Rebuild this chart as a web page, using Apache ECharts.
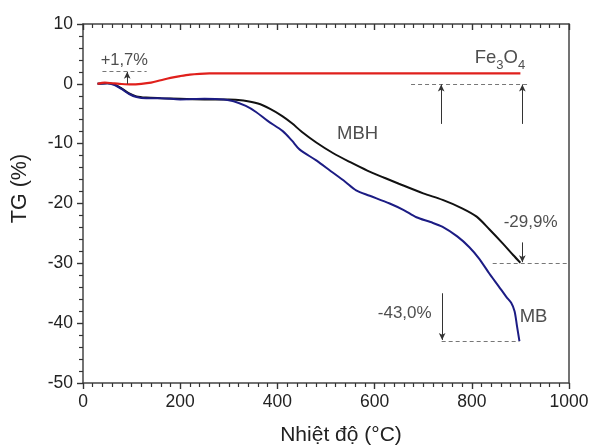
<!DOCTYPE html>
<html>
<head>
<meta charset="utf-8">
<script src="https://cdn.jsdelivr.net/npm/echarts@6/dist/echarts.min.js"></script>
<style>
html,body{margin:0;padding:0;background:#fff;}
#c{width:589px;height:446px;}
</style>
</head>
<body>
<div id="c"></div>
<script>
// Fe3O4 (red)
const tempFe = [30, 45, 60, 75, 100, 120, 140, 160, 180, 200, 220, 240, 260, 400, 600, 900];
const tgFe   = [0, 0.2, 0.1, 0, -0.1, 0, 0.2, 0.6, 1.0, 1.3, 1.55, 1.68, 1.74, 1.75, 1.75, 1.75];
// MBH (black)
const tempMBH = [30, 50, 65, 80, 95, 110, 130, 160, 200, 250, 300, 330, 360, 385, 410, 430, 450, 480, 515, 550, 585, 620, 650, 700, 740, 780, 810, 836, 864, 885, 900];
const tgMBH   = [0, 0.1, -0.1, -0.8, -1.6, -2.1, -2.3, -2.4, -2.5, -2.6, -2.6, -2.8, -3.3, -4.2, -5.4, -6.6, -8.0, -9.8, -11.6, -13.1, -14.5, -15.7, -16.7, -18.3, -19.4, -20.8, -22.2, -24.3, -26.7, -28.6, -29.9];
// MB (blue)
const tempMB = [30, 50, 65, 80, 95, 110, 130, 160, 200, 250, 290, 310, 335, 356, 380, 411, 430, 446, 480, 510, 540, 562, 590, 631, 660, 686, 715, 740, 770, 795, 815, 836, 855, 871, 881, 888, 893, 898];
const tgMB   = [0, 0.1, -0.2, -0.9, -1.7, -2.2, -2.4, -2.4, -2.6, -2.5, -2.6, -2.9, -3.7, -4.7, -6.2, -7.9, -9.5, -11.0, -12.8, -14.6, -16.4, -17.8, -18.7, -20.0, -21.1, -22.3, -23.1, -23.9, -25.5, -27.3, -29.2, -31.7, -33.8, -35.6, -36.6, -38.0, -40.5, -43.0];

const xTitle = 'Nhiệt độ (°C)';
const yTitle = 'TG (%)';

function pairs(xs, ys){ return xs.map((x,i)=>[x, ys[i]]); }

const FONT = '"Liberation Sans", Arial, sans-serif';
const axisCol = '#444';
const tickCol = '#333';
const txtCol = '#222';
const dashStyle = {type:[4,3], color:'#777', width:1};
const arrowStyle = {type:'solid', color:'#333', width:1};

function dashed(x1,y1,x2,y2){
  return [{coord:[x1,y1], symbol:'none', lineStyle:dashStyle}, {coord:[x2,y2], symbol:'none'}];
}
function arrow(x1,y1,x2,y2){
  return [{coord:[x1,y1], symbol:'none', lineStyle:arrowStyle}, {coord:[x2,y2], symbol:'arrow', symbolSize:[5,7]}];
}

const chart = echarts.init(document.getElementById('c'), null, {renderer:'canvas'});
const option = {
  animation:false,
  textStyle:{fontFamily:FONT},
  grid:{left:83, right:20, top:24, bottom:63, containLabel:false, outerBoundsMode:'none'},
  xAxis:[{
    type:'value', min:0, max:1000, interval:200, position:'bottom',
    name:xTitle, nameLocation:'middle', nameGap:42,
    nameTextStyle:{fontSize:21, color:txtCol, fontFamily:FONT, padding:[0,0,0,30]},
    axisLine:{show:true, onZero:false, lineStyle:{color:axisCol, width:1.5}},
    axisTick:{show:true, inside:false, length:6, lineStyle:{color:tickCol, width:1.4}},
    minorTick:{show:true, splitNumber:10, length:4, lineStyle:{color:tickCol, width:1.2}},
    axisLabel:{fontSize:17.5, color:txtCol, margin:10, fontFamily:FONT, formatter:v=>String(v)},
    splitLine:{show:false}, minorSplitLine:{show:false}
  },{
    type:'value', min:0, max:1000, interval:200, position:'top',
    axisLine:{show:true, onZero:false, lineStyle:{color:axisCol, width:1.5}},
    axisTick:{show:true, inside:true, length:6, lineStyle:{color:tickCol, width:1.4}},
    minorTick:{show:true, splitNumber:10, length:4, lineStyle:{color:tickCol, width:1.2}},
    axisLabel:{show:false}, splitLine:{show:false}, minorSplitLine:{show:false}
  }],
  yAxis:[{
    type:'value', min:-50, max:10, interval:10, position:'left',
    name:yTitle, nameLocation:'middle', nameGap:52, nameRotate:90,
    nameTextStyle:{fontSize:21.5, color:txtCol, fontFamily:FONT, padding:[0,0,0,30]},
    axisLine:{show:true, onZero:false, lineStyle:{color:axisCol, width:1.5}},
    axisTick:{show:true, inside:false, length:6, lineStyle:{color:tickCol, width:1.4}},
    minorTick:{show:true, splitNumber:5, length:4, lineStyle:{color:tickCol, width:1.2}},
    axisLabel:{fontSize:17.5, color:txtCol, margin:10, fontFamily:FONT},
    splitLine:{show:false}, minorSplitLine:{show:false}
  },{
    type:'value', min:-50, max:10, interval:10, position:'right',
    axisLine:{show:true, onZero:false, lineStyle:{color:axisCol, width:1.5}},
    axisTick:{show:false}, axisLabel:{show:false}, splitLine:{show:false}
  }],
  series:[
    {
      name:'Fe3O4', type:'line', data:pairs(tempFe, tgFe), showSymbol:false, smooth:0.3,
      lineStyle:{color:'#e0201c', width:2.2}, z:3,
      markLine:{
        silent:true, animation:false, label:{show:false},
        data:[
          dashed(40,2.1,131,2.1),
          arrow(91,0,91,2.0),
          dashed(675,0,919,0),
          arrow(737,-6.7,737,-0.1),
          arrow(904,-6.7,904,-0.1),
          dashed(843,-29.95,1000,-29.95),
          arrow(904,-26.5,904,-29.8),
          dashed(738,-43,898,-43),
          arrow(739,-35,739,-42.8)
        ]
      }
    },
    {
      name:'MBH', type:'line', data:pairs(tempMBH, tgMBH), showSymbol:false, smooth:0.3,
      lineStyle:{color:'#111', width:2}, z:2
    },
    {
      name:'MB', type:'line', data:pairs(tempMB, tgMB), showSymbol:false, smooth:0.3,
      lineStyle:{color:'#1c1c84', width:2}, z:2
    },
    {
      name:'labels', type:'scatter', symbolSize:0, silent:true, z:5,
      label:{show:true, position:'inside', color:txtCol, fontFamily:FONT, fontSize:17,
        formatter:p=>p.name},
      data:[
        {name:'+1,7%', value:[85,3.9], label:{fontSize:16.5}},
        {name:'MBH', value:[565,-8.3], label:{fontSize:18.5}},
        {name:'-29,9%', value:[921,-23.1]},
        {name:'-43,0%', value:[662,-38.3]},
        {name:'MB', value:[927,-38.9], label:{fontSize:18.5}},
        {name:'Fe3O4', value:[858,4.4], label:{
          formatter:'{a|Fe}{s|3}{a|O}{s|4}',
          rich:{a:{fontSize:18.5, color:txtCol, fontFamily:FONT, lineHeight:20, verticalAlign:'bottom'},
                s:{fontSize:13, color:txtCol, fontFamily:FONT, lineHeight:12, verticalAlign:'bottom', padding:[0,0,-4,0]}}
        }}
      ]
    }
  ]
};
chart.setOption(option);
</script>
</body>
</html>
